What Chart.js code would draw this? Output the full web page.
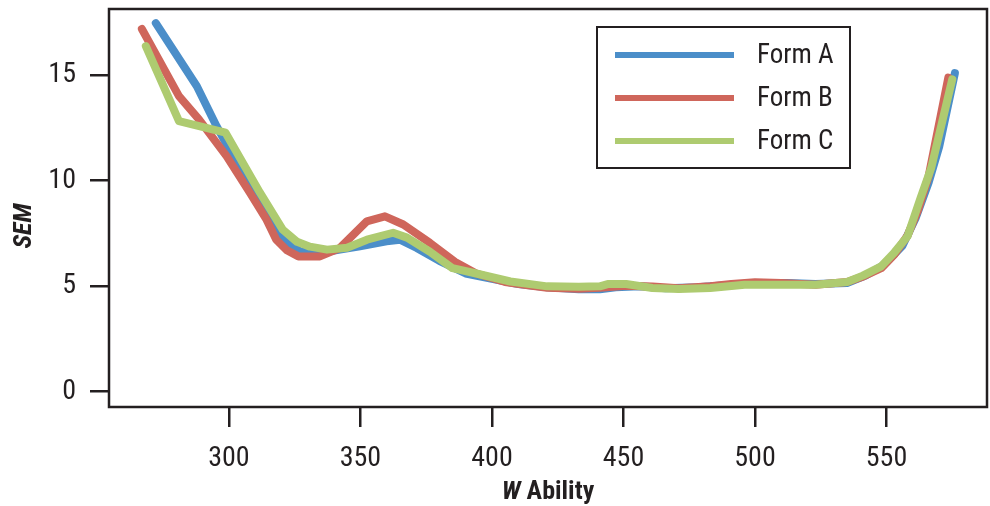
<!DOCTYPE html>
<html>
<head>
<meta charset="utf-8">
<script src="https://cdn.jsdelivr.net/npm/chart.js@4.4.0/dist/chart.umd.min.js"></script>
<style>
  html, body { margin: 0; padding: 0; background: #fff; }
</style>
</head>
<body>
<canvas id="semChart" width="990" height="506"></canvas>
<script>
// W ability / SEM values
const formAAbility = [272.2, 287.8, 295.3, 312.9, 320.6, 327, 334.6, 342.2, 349.8, 359.9, 365, 371.4, 380, 390, 400, 410, 421, 433, 441, 447, 456, 466, 478, 490, 500, 512, 523, 535, 542, 549, 556, 561, 566, 570, 576];
const formASem     = [17.46, 14.47, 12.58, 8.58, 7.28, 6.65, 6.57, 6.73, 6.89, 7.12, 7.2, 6.81, 6.2, 5.6, 5.35, 5.1, 4.95, 4.85, 4.85, 4.95, 5.0, 4.9, 4.95, 5.05, 5.15, 5.15, 5.1, 5.15, 5.5, 6.0, 6.9, 8.2, 9.9, 11.6, 15.09];

const formBAbility = [266.9, 281, 288.6, 299.1, 308, 314.3, 318, 322, 326.4, 334.6, 342.2, 352.4, 359.3, 366.3, 376.4, 386, 394, 405, 413, 421, 433, 441, 451, 461, 471, 483, 491, 500, 510, 523, 535, 541, 548, 553, 558, 562, 566, 573.5];
const formBSem     = [17.18, 14.0, 12.9, 11.16, 9.42, 8.15, 7.2, 6.7, 6.41, 6.41, 6.81, 8.07, 8.31, 7.92, 7.05, 6.15, 5.6, 5.2, 5.05, 4.92, 4.88, 4.92, 5.02, 4.98, 4.9, 5.0, 5.1, 5.18, 5.15, 5.07, 5.2, 5.45, 5.85, 6.5, 7.4, 8.6, 10.2, 14.88];

const formCAbility = [268.4, 281, 298.7, 311.8, 320.5, 325.9, 330.8, 337.3, 344.9, 352.5, 362.4, 367.7, 376.4, 385, 394, 407, 421, 433, 441, 444, 451, 461, 471, 483, 496, 510, 523, 535, 541, 548, 553, 558, 563, 567, 575];
const formCSem     = [16.37, 12.82, 12.27, 9.43, 7.67, 7.1, 6.87, 6.73, 6.82, 7.2, 7.53, 7.3, 6.63, 5.85, 5.6, 5.22, 4.99, 4.97, 4.99, 5.1, 5.1, 4.91, 4.86, 4.91, 5.07, 5.07, 5.07, 5.2, 5.5, 5.94, 6.6, 7.36, 9.2, 10.6, 14.8];

const seriesLabels = ['Form A', 'Form B', 'Form C'];
const seriesColors = ['#4b8ec9', '#cf665b', '#aecb70'];

const xTickValues = [300, 350, 400, 450, 500, 550];
const yTickValues = [0, 5, 10, 15];

const FONT = '"Liberation Sans Narrow", "Arial Narrow", "Roboto Condensed", sans-serif';
const INK = '#231f20';

const toPoints = (xs, ys) => xs.map((x, i) => ({x: x, y: ys[i]}));

// frame, legend box and the axis titles (mixed italic/bold)
const decorations = {
    id: 'decorations',
    afterDraw(chart) {
        const ctx = chart.ctx;
        const area = chart.chartArea;
        ctx.save();
        ctx.strokeStyle = INK;
        ctx.lineWidth = 2.5;
        ctx.strokeRect(area.left, area.top, area.right - area.left, area.bottom - area.top);

        // legend
        ctx.lineWidth = 2;
        ctx.strokeRect(597, 27, 253, 141);
        chart.data.datasets.forEach((ds, i) => {
            const y = 55 + i * 43;
            ctx.strokeStyle = ds.borderColor;
            ctx.lineWidth = 6;
            ctx.lineCap = 'butt';
            ctx.beginPath();
            ctx.moveTo(615, y);
            ctx.lineTo(734, y);
            ctx.stroke();
            ctx.fillStyle = INK;
            ctx.font = '27px ' + FONT;
            ctx.textBaseline = 'middle';
            ctx.textAlign = 'left';
            ctx.fillText(ds.label, 757, y + 1);
        });

        // y title
        ctx.fillStyle = INK;
        ctx.save();
        ctx.translate(24, 226);
        ctx.rotate(-Math.PI / 2);
        ctx.font = 'italic bold 26px ' + FONT;
        ctx.textAlign = 'center';
        ctx.textBaseline = 'middle';
        ctx.fillText('SEM', 0, 0);
        ctx.restore();

        // x title
        ctx.textBaseline = 'middle';
        ctx.textAlign = 'left';
        ctx.font = 'italic bold 26px ' + FONT;
        const wPart = 'W';
        const wWidth = ctx.measureText(wPart + ' ').width;
        ctx.font = 'bold 26px ' + FONT;
        const rest = 'Ability';
        const total = wWidth + ctx.measureText(rest).width;
        const x0 = (area.left + area.right) / 2 - total / 2;
        ctx.font = 'italic bold 26px ' + FONT;
        ctx.fillText(wPart, x0, 492);
        ctx.font = 'bold 26px ' + FONT;
        ctx.fillText(rest, x0 + wWidth, 492);
        ctx.restore();
    }
};

const makeSet = (i, xs, ys, order) => ({
    label: seriesLabels[i],
    data: toPoints(xs, ys),
    borderColor: seriesColors[i],
    backgroundColor: seriesColors[i],
    borderWidth: 8,
    borderJoinStyle: 'round',
    borderCapStyle: 'round',
    pointRadius: 0,
    tension: 0,
    fill: false,
    order: order
});

new Chart(document.getElementById('semChart').getContext('2d'), {
    type: 'line',
    data: {
        datasets: [
            makeSet(0, formAAbility, formASem, 2),
            makeSet(1, formBAbility, formBSem, 1),
            makeSet(2, formCAbility, formCSem, 0)
        ]
    },
    options: {
        responsive: false,
        animation: false,
        layout: {padding: {left: 0, right: 3, top: 9, bottom: 0}},
        plugins: {
            legend: {display: false},
            tooltip: {enabled: false}
        },
        scales: {
            x: {
                type: 'linear',
                min: 254.4,
                max: 588.2,
                afterBuildTicks: scale => { scale.ticks = xTickValues.map(v => ({value: v})); },
                afterFit: scale => {
                    scale.height = 99;
                    scale.paddingLeft = 0;
                    scale.paddingRight = 0;
                },
                border: {display: false},
                grid: {drawOnChartArea: false, tickLength: 20, color: INK, lineWidth: 2.5},
                ticks: {
                    padding: 15,
                    color: INK,
                    font: {family: FONT, size: 28},
                    maxRotation: 0,
                    callback: v => String(v)
                }
            },
            y: {
                min: -0.725,
                max: 18.13,
                afterBuildTicks: scale => { scale.ticks = yTickValues.map(v => ({value: v})); },
                afterFit: scale => {
                    scale.width = 109;
                    scale.paddingTop = 0;
                    scale.paddingBottom = 0;
                },
                border: {display: false},
                grid: {drawOnChartArea: false, tickLength: 19, color: INK, lineWidth: 2.5},
                ticks: {
                    padding: 14,
                    color: INK,
                    font: {family: FONT, size: 28},
                    callback: v => String(v)
                }
            }
        }
    },
    plugins: [decorations]
});
</script>
</body>
</html>
